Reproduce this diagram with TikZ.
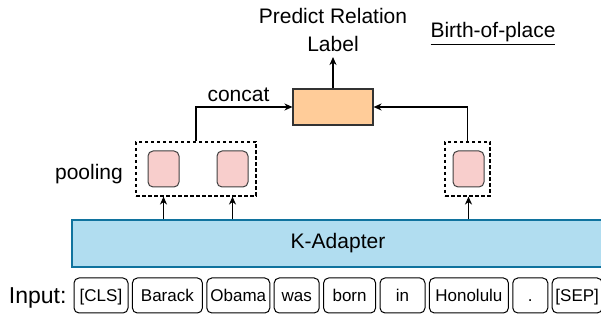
\documentclass[tikz,border=0pt]{standalone}
\usepackage{fontspec}
\setmainfont{Liberation Sans}
\usepackage{xcolor}
\usepackage{tikz}
\usetikzlibrary{positioning,calc,arrows.meta}

\definecolor{adapterblue}{HTML}{B1DDF0}
\definecolor{adapterline}{HTML}{10739E}
\definecolor{poolpink}{HTML}{F8CECC}
\definecolor{relorange}{HTML}{FFCC99}

\begin{document}
\begin{tikzpicture}[x=1pt,y=1pt,
        >={Stealth[length=8pt,width=7pt,inset=2.5pt]},
        arr/.style={->, line width=1.3pt},
        txt/.style={font=\fontsize{21}{28}\selectfont},
        tok/.style={draw, rounded corners=5pt, line width=1pt, minimum height=35pt, inner sep=0pt,
            text height=12pt, text depth=0pt, font=\fontsize{17}{20}\selectfont},
        adapter/.style={draw=adapterline, fill=adapterblue, line width=1.1pt, txt},
        poolbox/.style={draw=black!75, fill=poolpink, rounded corners=5pt, line width=1pt,
            minimum width=31pt, minimum height=36pt, inner sep=0pt},
        groupbox/.style={draw, line width=1.1pt, dash pattern=on 3.5pt off 2.5pt, inner sep=0pt},
        relbox/.style={draw=black!80, fill=relorange, line width=1.1pt, minimum width=80pt, minimum height=36pt}]
    \useasboundingbox (0,0) rectangle (601,320);

    % input tokens
    \node[txt, anchor=base east, font=\fontsize{23}{28}\selectfont] (input) at (70,16) {Input:};
    \node[tok, minimum width=54pt] (cls) at (101,24.5) {[CLS]};
    \node[tok, minimum width=70pt, right=3.4pt of cls] (barack) {Barack};
    \node[tok, minimum width=63pt, right=3.4pt of barack] (obama) {Obama};
    \node[tok, minimum width=45pt, right=3.4pt of obama] (was) {was};
    \node[tok, minimum width=52pt, right=3.4pt of was] (born) {born};
    \node[tok, minimum width=45pt, right=3.4pt of born] (in) {in};
    \node[tok, minimum width=79pt, right=3.4pt of in] (honolulu) {Honolulu};
    \node[tok, minimum width=35pt, right=3.4pt of honolulu] (dot) {.};
    \node[tok, minimum width=50pt, right=3.4pt of dot] (sep) {[SEP]};

    % encoder
    \node[adapter, minimum width=532pt, minimum height=47pt] (kadapter) at (338,76.5) {K-Adapter};

    % pooled entity vectors
    \node[poolbox] (pool1) at (163.5,151) {};
    \node[poolbox] (pool2) at (232.5,151) {};
    \node[poolbox] (pool3) at (468.5,151) {};
    \node[groupbox, minimum width=120pt, minimum height=54pt] (grpleft) at (196,151) {};
    \node[groupbox, minimum width=45pt, minimum height=54pt] (grpright) at (467.5,151) {};
    \node[txt, anchor=base] (pooling) at (89,140) {pooling};

    \draw[arr] (kadapter.north -| pool1) -- (grpleft.south -| pool1);
    \draw[arr] (kadapter.north -| pool2) -- (grpleft.south -| pool2);
    \draw[arr] (kadapter.north -| pool3) -- (grpright.south -| pool3);

    % relation classifier
    \node[relbox] (relbox) at (333,213) {};
    \draw[arr] (grpleft.north) |- (relbox.west) node[txt, pos=0.72, above=1pt] {concat};
    \draw[arr] (grpright.north) |- (relbox.east);

    \node[txt, anchor=south, align=center, inner sep=5pt] (predict) at (333,263) {Predict Relation\\Label};
    \draw[arr] (relbox.north) -- (predict.south);

    \node[txt, anchor=base] (relname) at (493,282) {\underline{Birth-of-place}};
\end{tikzpicture}
\end{document}
